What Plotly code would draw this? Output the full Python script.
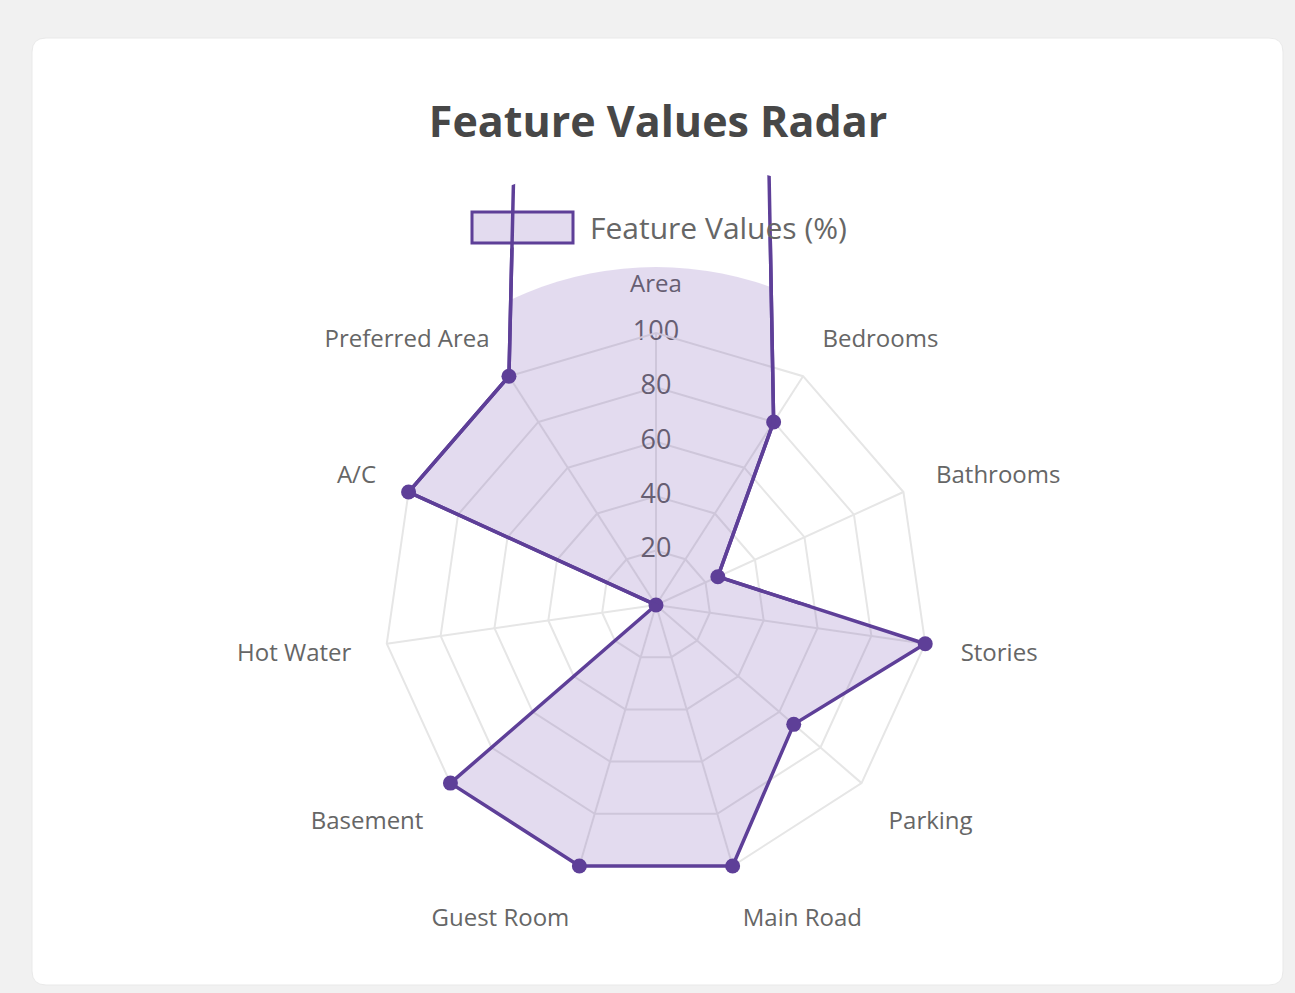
import plotly.graph_objects as go

# ---------------- data ----------------
categories = ["Area", "Bedrooms", "Bathrooms", "Stories", "Parking", "Main Road",
              "Guest Room", "Basement", "Hot Water", "A/C", "Preferred Area"]
values = [2400, 80, 25, 100, 67, 100, 100, 100, 0, 100, 100]
radial_ticks = [20, 40, 60, 80, 100]
radial_tick_labels = ["20", "40", "60", "80", "100"]
series_name = "Feature Values (%)"
title_text = "Feature Values Radar"

# ---------------- styling / geometry ----------------
W, H = 1295, 993
CX, CY = 656, 605          # radar centre (px from top-left)
R = 272                    # px radius of the 0-100 scale
RMAX = 100
FONT = "Open Sans"
GRID = "#e6e6e6"
PURPLE = "rgb(94,63,152)"
FILL = "rgba(108,64,168,0.19)"
TEXT = "#666666"

theta_closed = categories + categories[:1]
r_closed = values + values[:1]


def dom(radius, upper_half=False):
    yb = H - CY
    x = [(CX - radius) / W, (CX + radius) / W]
    if upper_half:
        y = [yb / H, (yb + radius) / H]
    else:
        y = [(yb - radius) / H, (yb + radius) / H]
    return dict(x=x, y=y)


def hidden_polar(radius, upper_half=False):
    d = dict(
        domain=dom(radius, upper_half),
        bgcolor="rgba(0,0,0,0)",
        angularaxis=dict(type="category", categoryorder="array", categoryarray=categories,
                         rotation=90, direction="clockwise", visible=False),
        radialaxis=dict(range=[0, RMAX * radius / R], visible=False),
    )
    if upper_half:
        d["sector"] = [0, 180]
    return d


fig = go.Figure()

# radial tick labels (drawn on the main scale, centred on the vertical spoke)
fig.add_trace(go.Scatterpolar(
    r=radial_ticks, theta=[categories[0]] * len(radial_ticks), mode="text",
    text=radial_tick_labels, textfont=dict(family=FONT, size=27, color=TEXT),
    cliponaxis=False, showlegend=False, hoverinfo="skip", subplot="polar"))

# filled area
fig.add_trace(go.Scatterpolar(
    r=r_closed, theta=theta_closed, mode="lines", fill="toself", fillcolor=FILL,
    line=dict(width=0, color=FILL), name=series_name, showlegend=False,
    hoverinfo="skip", subplot="polar2"))

# outline + points
fig.add_trace(go.Scatterpolar(
    r=r_closed, theta=theta_closed, mode="lines+markers",
    line=dict(color=PURPLE, width=3.5), marker=dict(color=PURPLE, size=15),
    name=series_name, showlegend=False, subplot="polar3"))

# outline continuing upward (off-scale Area value)
fig.add_trace(go.Scatterpolar(
    r=r_closed, theta=theta_closed, mode="lines",
    line=dict(color=PURPLE, width=3.5), name=series_name, showlegend=False,
    hoverinfo="skip", subplot="polar4"))

R_FILL, R_LINE, R_UP = 338, 385, 444

# card background
def rounded_rect(x0, y0, x1, y1, rad):
    fx = lambda px: px / W
    fy = lambda py: 1 - py / H
    return (f"M{fx(x0+rad)},{fy(y0)} L{fx(x1-rad)},{fy(y0)} Q{fx(x1)},{fy(y0)} {fx(x1)},{fy(y0+rad)} "
            f"L{fx(x1)},{fy(y1-rad)} Q{fx(x1)},{fy(y1)} {fx(x1-rad)},{fy(y1)} "
            f"L{fx(x0+rad)},{fy(y1)} Q{fx(x0)},{fy(y1)} {fx(x0)},{fy(y1-rad)} "
            f"L{fx(x0)},{fy(y0+rad)} Q{fx(x0)},{fy(y0)} {fx(x0+rad)},{fy(y0)} Z")

shapes = [
    dict(type="path", xref="paper", yref="paper", path=rounded_rect(32, 38, 1283, 985, 14),
         fillcolor="white", line=dict(color="#e9e9e9", width=1), layer="below"),
    # legend swatch
    dict(type="rect", xref="paper", yref="paper",
         x0=472 / W, x1=573 / W, y0=1 - 243 / H, y1=1 - 212 / H,
         fillcolor=FILL, line=dict(color=PURPLE, width=3), layer="below"),
]

annotations = [
    dict(text=series_name, xref="paper", yref="paper", x=588 / W, y=1 - 227 / H,
         xanchor="left", yanchor="middle", showarrow=False,
         font=dict(family=FONT, size=30, color=TEXT)),
]

fig.update_layout(
    width=W, height=H,
    margin=dict(l=0, r=0, t=0, b=0),
    paper_bgcolor="#f1f1f1",
    plot_bgcolor="white",
    showlegend=False,
    title=dict(text=f"<b>{title_text}</b>", x=658 / W, xanchor="center",
               y=1 - 122 / H, yanchor="middle",
               font=dict(family=FONT, size=43, color="#474747")),
    polar=dict(
        domain=dom(R),
        bgcolor="rgba(0,0,0,0)",
        gridshape="linear",
        angularaxis=dict(type="category", categoryorder="array", categoryarray=categories,
                         rotation=90, direction="clockwise",
                         showline=True, linecolor=GRID, linewidth=2,
                         showgrid=True, gridcolor=GRID, gridwidth=2,
                         ticks="outside", ticklen=30, tickcolor="rgba(0,0,0,0)",
                         tickfont=dict(family=FONT, size=24, color=TEXT)),
        radialaxis=dict(range=[0, RMAX], tickvals=radial_ticks, showticklabels=False,
                        ticks="", showline=False, gridcolor=GRID, gridwidth=2, angle=90),
    ),
    polar2=hidden_polar(R_FILL),
    polar3=hidden_polar(R_LINE),
    polar4=hidden_polar(R_UP, upper_half=True),
    shapes=shapes,
    annotations=annotations,
)

fig.write_html(
    "out.html",
    config={"displayModeBar": False},
    post_script=("document.body.style.margin='0';"
                 "document.body.style.background='#f1f1f1';"
                 "document.documentElement.style.overflow='hidden';"),
)
